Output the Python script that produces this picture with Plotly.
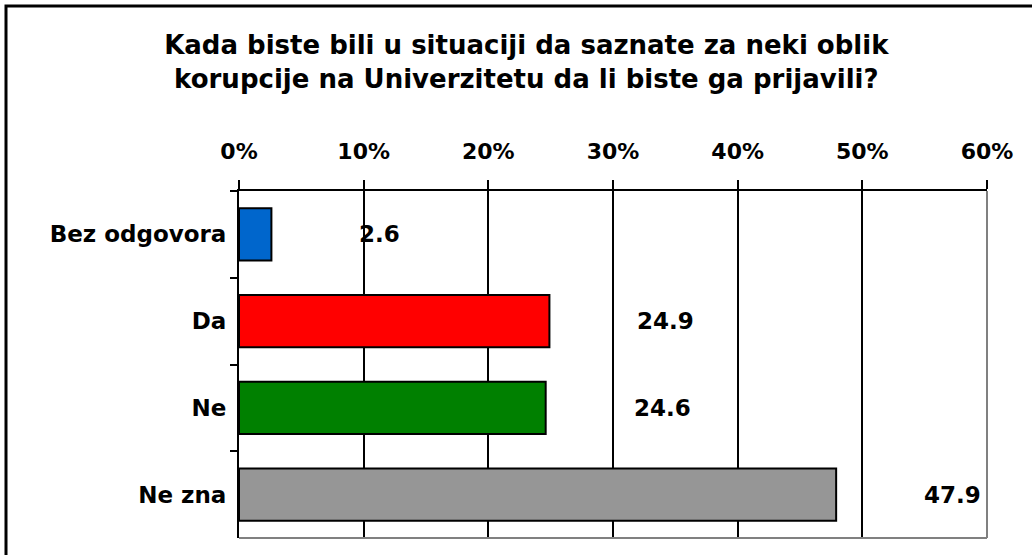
import plotly.graph_objects as go

categories = ["Bez odgovora", "Da", "Ne", "Ne zna"]
values = [2.6, 24.9, 24.6, 47.9]
colors = ["#0066CC", "#FF0000", "#008000", "#969696"]
tick_vals = [0, 10, 20, 30, 40, 50, 60]
tick_text = ["0%", "10%", "20%", "30%", "40%", "50%", "60%"]
title_text = "Kada biste bili u situaciji da saznate za neki oblik<br>korupcije na Univerzitetu da li biste ga prijavili?"

FONT = "DejaVu Sans"

fig = go.Figure()
fig.add_trace(go.Bar(
    y=categories, x=values, orientation="h",
    marker=dict(color=colors, line=dict(color="black", width=2)),
    width=0.6, hoverinfo="skip",
))

for c, v in zip(categories, values):
    fig.add_annotation(x=v, y=c, text=f"{v}", showarrow=False, xanchor="left",
                       xshift=86, font=dict(family=FONT, size=23, color="black", weight="bold"))

W, H = 1032, 555
L, R, T, B = 239, 45, 191, 17
pw, ph = W - L - R, H - T - B

def px(x):
    return (x - L) / pw

def py(y):
    return (H - B - y) / ph

shapes = [
    dict(type="line", xref="paper", yref="paper", x0=1, x1=1, y0=0, y1=1,
         line=dict(color="#808080", width=2), layer="above"),
    dict(type="line", xref="paper", yref="paper", x0=0, x1=1, y0=0, y1=0,
         line=dict(color="#808080", width=2), layer="above"),
    dict(type="rect", xref="paper", yref="paper", x0=px(6), x1=px(W + 20), y0=py(H + 20), y1=py(6),
         line=dict(color="black", width=3), layer="above"),
]

fig.update_layout(
    width=W, height=H,
    margin=dict(l=L, r=R, t=T, b=B),
    paper_bgcolor="white", plot_bgcolor="white",
    showlegend=False,
    bargap=0.4,
    shapes=shapes,
    title=dict(text=title_text, x=0.51, xanchor="center", y=0.903, yanchor="middle",
               font=dict(family=FONT, size=26, color="black", weight="bold")),
    xaxis=dict(side="top", range=[0, 60], tickvals=tick_vals, ticktext=tick_text,
               showgrid=True, gridcolor="black", gridwidth=2,
               showline=True, linecolor="black", linewidth=2,
               ticks="outside", ticklen=9, tickwidth=2, tickcolor="black",
               ticklabelstandoff=12,
               tickfont=dict(family=FONT, size=22, color="black", weight="bold"),
               zeroline=False, fixedrange=True),
    yaxis=dict(autorange="reversed", categoryorder="array", categoryarray=categories,
               showline=True, linecolor="black", linewidth=2,
               ticks="outside", ticklen=7, tickwidth=2, tickcolor="black",
               tickson="boundaries", showgrid=False,
               ticklabelstandoff=6,
               tickfont=dict(family=FONT, size=23, color="black", weight="bold"),
               fixedrange=True),
)

fig.write_html("out.html", config={"displayModeBar": False},
               post_script="document.body.style.margin='0';document.body.style.overflow='hidden';")
